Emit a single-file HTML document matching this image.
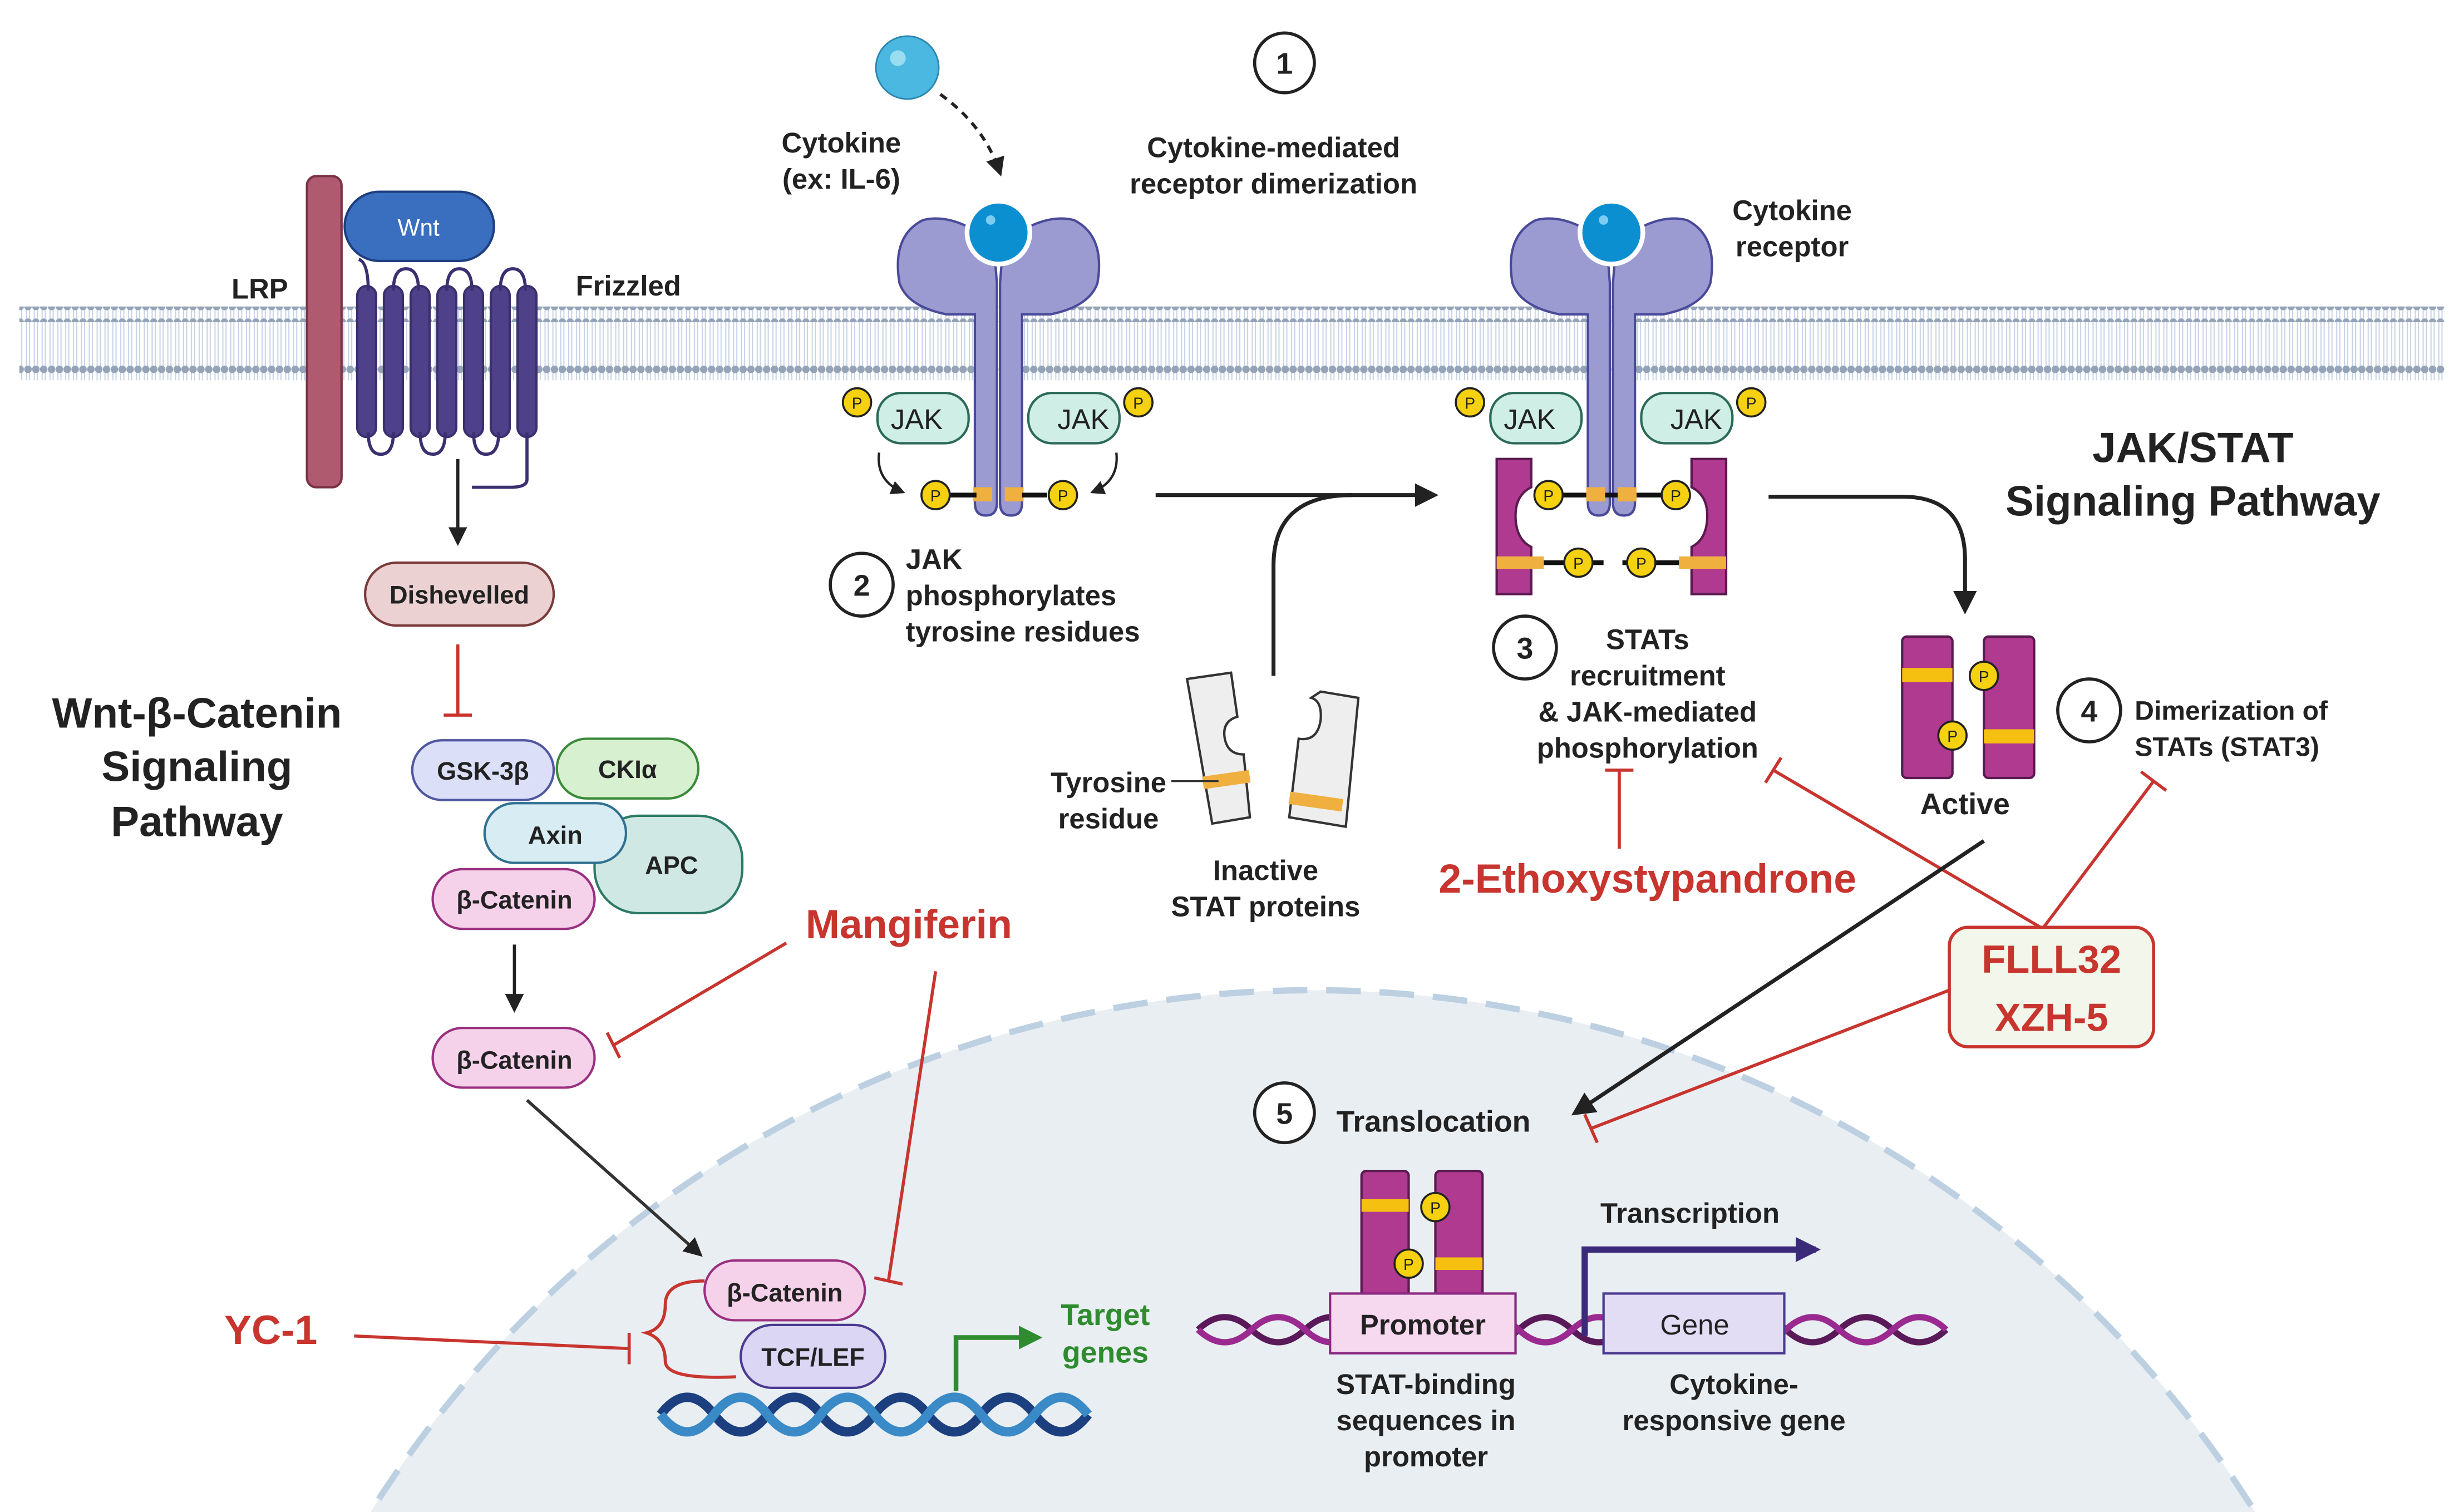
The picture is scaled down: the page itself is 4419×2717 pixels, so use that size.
<!DOCTYPE html>
<html><head><meta charset="utf-8"><style>
html,body{margin:0;padding:0;background:#fff;width:4419px;height:2717px;overflow:hidden}
svg{display:block}
text{font-family:"Liberation Sans",sans-serif;font-weight:bold;fill:#222}
</style></head><body>
<svg width="4419" height="2717" viewBox="0 0 1564 962" xmlns="http://www.w3.org/2000/svg">
<defs>
<marker id="ah" viewBox="0 0 10 10" refX="8" refY="5" markerWidth="6" markerHeight="6" orient="auto"><path d="M0,0 L10,5 L0,10 z" fill="#222"/></marker>
<marker id="ahg" viewBox="0 0 10 10" refX="8" refY="5" markerWidth="5" markerHeight="5" orient="auto"><path d="M0,0 L10,5 L0,10 z" fill="#2e8b2e"/></marker>
<marker id="ahp" viewBox="0 0 10 10" refX="8" refY="5" markerWidth="4" markerHeight="4" orient="auto"><path d="M0,0 L10,5 L0,10 z" fill="#3b2a7a"/></marker>
<pattern id="heads" width="5" height="10" patternUnits="userSpaceOnUse"><circle cx="2.5" cy="5" r="2.4" fill="#94a3b8"/></pattern>
<pattern id="tails" width="5" height="10" patternUnits="userSpaceOnUse"><path d="M1.5,0 L1.5,10 M3.5,0 L3.5,10" stroke="#c5d2e6" stroke-width="0.7"/></pattern>
<g id="P"><circle r="9" fill="#f5d10f" stroke="#222" stroke-width="1.3"/><text y="4" text-anchor="middle" font-size="10" style="font-weight:normal">P</text></g>
</defs>

<!-- nucleus -->
<ellipse cx="835" cy="1345" rx="710" ry="715" fill="#e9eef2" stroke="#bcd0e2" stroke-width="4" stroke-dasharray="22 12"/>

<!-- membrane -->
<rect x="12" y="196" width="1543" height="46" fill="url(#tails)"/>
<rect x="12" y="195" width="1543" height="10" fill="url(#heads)"/>
<rect x="12" y="230" width="1543" height="10" fill="url(#heads)"/>

<!-- Wnt pathway -->
<rect x="195" y="112" width="22" height="198" rx="6" fill="#b05a70" stroke="#7a3345" stroke-width="1.5"/>
<rect x="219" y="122" width="95" height="44" rx="22" fill="#3a6fc0" stroke="#1e3f80" stroke-width="1.5"/>
<text x="266" y="150" text-anchor="middle" font-size="15" style="fill:#fff;font-weight:normal">Wnt</text>
<g fill="#4f4189" stroke="#3b2f70" stroke-width="1.5">
<rect x="227" y="182" width="12" height="96" rx="6"/><rect x="244" y="182" width="12" height="96" rx="6"/>
<rect x="261" y="182" width="12" height="96" rx="6"/><rect x="278" y="182" width="12" height="96" rx="6"/>
<rect x="295" y="182" width="12" height="96" rx="6"/><rect x="312" y="182" width="12" height="96" rx="6"/>
<rect x="329" y="182" width="12" height="96" rx="6"/>
</g>
<path d="M234,185 Q234,167 228,165 M250,185 q0,-14 8,-14 q8,0 8,14 M284,185 q0,-14 8,-14 q8,0 8,14 M318,185 q0,-14 8,-14 q8,0 8,14 M234,275 q0,14 8,14 q8,0 8,-14 M267,275 q0,14 8,14 q8,0 8,-14 M301,275 q0,14 8,14 q8,0 8,-14 M335,275 L335,305 q0,5 -10,5 L300,310" fill="none" stroke="#3b2f70" stroke-width="2"/>
<text x="183" y="190" text-anchor="end" font-size="18">LRP</text>
<text x="366" y="188" font-size="18">Frizzled</text>
<line x1="291" y1="292" x2="291" y2="345" stroke="#222" stroke-width="2" marker-end="url(#ah)"/>
<rect x="232" y="358" width="120" height="40" rx="20" fill="#ecd1d3" stroke="#7a3a3a" stroke-width="1.5"/>
<text x="292" y="384" text-anchor="middle" font-size="16">Dishevelled</text>
<path d="M291,410 L291,455 M282,455 L300,455" stroke="#c8342e" stroke-width="2" fill="none"/>
<text x="125" y="463" text-anchor="middle" font-size="27">Wnt-β-Catenin</text>
<text x="125" y="497" text-anchor="middle" font-size="27">Signaling</text>
<text x="125" y="532" text-anchor="middle" font-size="27">Pathway</text>
<rect x="378" y="519" width="94" height="62" rx="28" fill="#cfe8e3" stroke="#2c7a66" stroke-width="1.5"/>
<text x="427" y="556" text-anchor="middle" font-size="16">APC</text>
<rect x="262" y="471" width="90" height="38" rx="19" fill="#dcdff8" stroke="#5058a0" stroke-width="1.5"/>
<text x="307" y="496" text-anchor="middle" font-size="16">GSK-3β</text>
<rect x="354" y="470" width="90" height="38" rx="19" fill="#d7f0cf" stroke="#3a8a3a" stroke-width="1.5"/>
<text x="399" y="495" text-anchor="middle" font-size="16">CKIα</text>
<rect x="308" y="511" width="90" height="38" rx="19" fill="#d8ecf3" stroke="#307090" stroke-width="1.5"/>
<text x="353" y="537" text-anchor="middle" font-size="16">Axin</text>
<rect x="275" y="553" width="103" height="38" rx="19" fill="#f5d1ea" stroke="#9a3080" stroke-width="1.5"/>
<text x="327" y="578" text-anchor="middle" font-size="16">β-Catenin</text>
<line x1="327" y1="601" x2="327" y2="642" stroke="#222" stroke-width="2" marker-end="url(#ah)"/>
<rect x="275" y="654" width="103" height="38" rx="19" fill="#f5d1ea" stroke="#9a3080" stroke-width="1.5"/>
<text x="327" y="680" text-anchor="middle" font-size="16">β-Catenin</text>
<line x1="335" y1="700" x2="445" y2="798" stroke="#333" stroke-width="2" marker-end="url(#ah)"/>
<text x="578" y="597" text-anchor="middle" font-size="26" style="fill:#c8342e">Mangiferin</text>
<path d="M500,600 L390,665 M386,657 L394,673" stroke="#c8342e" stroke-width="2" fill="none"/>
<path d="M595,618 L565,815 M556,813 L574,817" stroke="#c8342e" stroke-width="2" fill="none"/>
<text x="172" y="855" text-anchor="middle" font-size="26" style="fill:#c8342e">YC-1</text>
<path d="M225,850 L400,858 M400,848 L400,868" stroke="#c8342e" stroke-width="2" fill="none"/>
<path d="M448,815 q-25,0 -25,15 q0,15 -12,18 q12,4 12,18 q0,12 45,10" stroke="#c8342e" stroke-width="2" fill="none"/>
<!-- DNA left -->
<path d="M420,900 q17,-22 34,0 t34,0 t34,0 t34,0 t34,0 t34,0 t34,0 t34,0" stroke="#1c3f80" stroke-width="6" fill="none"/>
<path d="M420,900 q17,22 34,0 t34,0 t34,0 t34,0 t34,0 t34,0 t34,0 t34,0" stroke="#3a8ac8" stroke-width="6" fill="none"/>
<rect x="448" y="802" width="102" height="38" rx="19" fill="#f5d1ea" stroke="#9a3080" stroke-width="1.5"/>
<text x="499" y="828" text-anchor="middle" font-size="16">β-Catenin</text>
<rect x="471" y="843" width="92" height="40" rx="20" fill="#dcd6f5" stroke="#4a3a90" stroke-width="1.5"/>
<text x="517" y="869" text-anchor="middle" font-size="16">TCF/LEF</text>
<path d="M608,885 L608,851 L660,851" stroke="#2e8b2e" stroke-width="3" fill="none" marker-end="url(#ahg)"/>
<text x="703" y="843" text-anchor="middle" font-size="19" style="fill:#2e8b2e">Target</text>
<text x="703" y="867" text-anchor="middle" font-size="19" style="fill:#2e8b2e">genes</text>

<!-- JAK/STAT step 1 -->
<circle cx="577" cy="43" r="20" fill="#4ab8e0" stroke="#2a86b0" stroke-width="1"/>
<circle cx="571" cy="37" r="5" fill="#9adcf0"/>
<path d="M598,60 q28,20 38,50" stroke="#222" stroke-width="2" stroke-dasharray="5 4" fill="none" marker-end="url(#ah)"/>
<text x="535" y="97" text-anchor="middle" font-size="18">Cytokine</text>
<text x="535" y="120" text-anchor="middle" font-size="18">(ex: IL-6)</text>
<circle cx="817" cy="40" r="19" fill="#fff" stroke="#222" stroke-width="2"/><text x="817" y="47" text-anchor="middle" font-size="19">1</text>
<text x="810" y="100" text-anchor="middle" font-size="18">Cytokine-mediated</text>
<text x="810" y="123" text-anchor="middle" font-size="18">receptor dimerization</text>

<g id="rec">
<path d="M632,155 q-25,-20 -45,-15 q-20,10 -15,40 q5,15 30,20 L620,200 L620,320 q0,8 7,8 q7,0 7,-8 L634,180 z" fill="#9b9bd2" stroke="#4a4a9a" stroke-width="1.5"/>
<path d="M638,155 q25,-20 45,-15 q20,10 15,40 q-5,15 -30,20 L650,200 L650,320 q0,8 -7,8 q-7,0 -7,-8 L636,180 z" fill="#9b9bd2" stroke="#4a4a9a" stroke-width="1.5"/>
<circle cx="635" cy="148" r="20" fill="#0b8fd0" stroke="#fff" stroke-width="3"/>
<circle cx="630" cy="140" r="3" fill="#7ccdf0"/>
<rect x="558" y="250" width="58" height="32" rx="15" fill="#cfeee6" stroke="#2c6a58" stroke-width="1.5"/>
<text x="583" y="273" text-anchor="middle" font-size="18" style="font-weight:normal">JAK</text>
<rect x="654" y="250" width="58" height="32" rx="15" fill="#cfeee6" stroke="#2c6a58" stroke-width="1.5"/>
<text x="689" y="273" text-anchor="middle" font-size="18" style="font-weight:normal">JAK</text>
<use href="#P" x="545" y="256"/><use href="#P" x="724" y="256"/>
<rect x="619" y="310" width="12" height="9" fill="#f0b040"/><rect x="639" y="310" width="12" height="9" fill="#f0b040"/>
</g>
<line x1="604" y1="315" x2="621" y2="315" stroke="#111" stroke-width="3"/><line x1="650" y1="315" x2="666" y2="315" stroke="#111" stroke-width="3"/>
<use href="#P" x="595" y="315"/><use href="#P" x="676" y="315"/>
<path d="M559,288 q-2,18 15,25" stroke="#222" stroke-width="1.5" fill="none" marker-end="url(#ah)"/>
<path d="M710,288 q2,18 -15,25" stroke="#222" stroke-width="1.5" fill="none" marker-end="url(#ah)"/>
<circle cx="548" cy="372" r="20" fill="#fff" stroke="#222" stroke-width="2"/><text x="548" y="379" text-anchor="middle" font-size="19">2</text>
<text x="576" y="362" font-size="18">JAK</text>
<text x="576" y="385" font-size="18">phosphorylates</text>
<text x="576" y="408" font-size="18">tyrosine residues</text>
<line x1="735" y1="315" x2="912" y2="315" stroke="#222" stroke-width="2.5" marker-end="url(#ah)"/>
<path d="M810,430 L810,360 q0,-45 50,-45" stroke="#222" stroke-width="2.5" fill="none"/>
<!-- inactive STATs -->
<path d="M755,432 l28,-4 l4,28 q-10,3 -8,14 q2,10 12,10 l4,40 l-24,4 z" fill="#eee" stroke="#333" stroke-width="1.5"/>
<rect x="765" y="492" width="30" height="8" fill="#f0b040" transform="rotate(-8 780 496)"/>
<path d="M840,440 l24,4 l-8,82 l-36,-6 l6,-50 q12,2 14,-12 q1,-12 -6,-14 z" fill="#eee" stroke="#333" stroke-width="1.5"/>
<rect x="820" y="506" width="34" height="8" fill="#f0b040" transform="rotate(8 837 510)"/>
<text x="705" y="504" text-anchor="middle" font-size="18">Tyrosine</text>
<text x="705" y="527" text-anchor="middle" font-size="18">residue</text>
<line x1="745" y1="497" x2="775" y2="497" stroke="#333" stroke-width="1.2"/>
<text x="805" y="560" text-anchor="middle" font-size="18">Inactive</text>
<text x="805" y="583" text-anchor="middle" font-size="18">STAT proteins</text>

<!-- step 3 -->
<g transform="translate(390,0)"><use href="#rec"/></g>
<text x="1140" y="140" text-anchor="middle" font-size="18">Cytokine</text>
<text x="1140" y="163" text-anchor="middle" font-size="18">receptor</text>
<path d="M952,292 h22 v18 q-10,5 -10,18 q0,15 10,20 v30 h-22 z" fill="#b03a90" stroke="#5a1a50" stroke-width="1.5"/>
<path d="M1098,292 h-22 v18 q10,5 10,18 q0,15 -10,20 v30 h22 z" fill="#b03a90" stroke="#5a1a50" stroke-width="1.5"/>
<rect x="952" y="354" width="30" height="8" fill="#f0b040"/><rect x="1068" y="354" width="30" height="8" fill="#f0b040"/>
<line x1="990" y1="315" x2="1058" y2="315" stroke="#111" stroke-width="3"/>
<rect x="1009" y="310" width="12" height="9" fill="#f0b040"/><rect x="1029" y="310" width="12" height="9" fill="#f0b040"/>
<use href="#P" x="985" y="315"/><use href="#P" x="1066" y="315"/>
<line x1="982" y1="358" x2="1068" y2="358" stroke="#111" stroke-width="3"/>
<rect x="1020" y="340" width="12" height="30" fill="#fff"/>
<use href="#P" x="1004" y="358"/><use href="#P" x="1044" y="358"/>
<circle cx="970" cy="412" r="20" fill="#fff" stroke="#222" stroke-width="2"/><text x="970" y="419" text-anchor="middle" font-size="19">3</text>
<text x="1048" y="413" text-anchor="middle" font-size="18">STATs</text>
<text x="1048" y="436" text-anchor="middle" font-size="18">recruitment</text>
<text x="1048" y="459" text-anchor="middle" font-size="18">&amp; JAK-mediated</text>
<text x="1048" y="482" text-anchor="middle" font-size="18">phosphorylation</text>
<path d="M1125,316 H1210 q40,0 40,40 V388" stroke="#222" stroke-width="2.5" fill="none" marker-end="url(#ah)"/>
<text x="1395" y="294" text-anchor="middle" font-size="27">JAK/STAT</text>
<text x="1395" y="328" text-anchor="middle" font-size="27">Signaling Pathway</text>
<!-- active dimer -->
<rect x="1210" y="405" width="32" height="90" rx="3" fill="#b03a90" stroke="#5a1a50" stroke-width="1.5"/>
<rect x="1262" y="405" width="32" height="90" rx="3" fill="#b03a90" stroke="#5a1a50" stroke-width="1.5"/>
<rect x="1210" y="425" width="32" height="9" fill="#f5c010"/><rect x="1262" y="464" width="32" height="9" fill="#f5c010"/>
<use href="#P" x="1262" y="430"/><use href="#P" x="1242" y="468"/>
<text x="1250" y="518" text-anchor="middle" font-size="19">Active</text>
<circle cx="1329" cy="452" r="20" fill="#fff" stroke="#222" stroke-width="2"/><text x="1329" y="459" text-anchor="middle" font-size="19">4</text>
<text x="1358" y="458" font-size="17">Dimerization of</text>
<text x="1358" y="481" font-size="17">STATs (STAT3)</text>
<path d="M1030,490 V540 M1021,490 H1039" stroke="#c8342e" stroke-width="2" fill="none"/>
<text x="1048" y="568" text-anchor="middle" font-size="26" style="fill:#c8342e">2-Ethoxystypandrone</text>
<path d="M1298,590 L1128,490 M1123,498 L1133,482 M1300,590 L1370,497 M1362,491 L1378,503" stroke="#c8342e" stroke-width="2" fill="none"/>
<line x1="1262" y1="535" x2="1002" y2="708" stroke="#222" stroke-width="2.5" marker-end="url(#ah)"/>
<rect x="1240" y="590" width="130" height="76" rx="12" fill="#f3f6ea" stroke="#c8342e" stroke-width="2"/>
<text x="1305" y="619" text-anchor="middle" font-size="25" style="fill:#c8342e">FLLL32</text>
<text x="1305" y="656" text-anchor="middle" font-size="25" style="fill:#c8342e">XZH-5</text>
<path d="M1240,630 L1012,718 M1008,709 L1016,727" stroke="#c8342e" stroke-width="2" fill="none"/>
<circle cx="817" cy="708" r="19" fill="#fff" stroke="#222" stroke-width="2"/><text x="817" y="715" text-anchor="middle" font-size="19">5</text>
<text x="850" y="720" font-size="19">Translocation</text>

<!-- DNA right -->
<path d="M762,846 q17,-16 34,0 t34,0 t34,0 t34,0 t34,0 t34,0 t34,0 t34,0 t34,0 t34,0 t34,0 t34,0 t34,0 t34,0" stroke="#5a1a5a" stroke-width="4" fill="none"/>
<path d="M762,846 q17,16 34,0 t34,0 t34,0 t34,0 t34,0 t34,0 t34,0 t34,0 t34,0 t34,0 t34,0 t34,0 t34,0 t34,0" stroke="#9a2a90" stroke-width="4" fill="none"/>
<rect x="866" y="745" width="30" height="82" rx="3" fill="#b03a90" stroke="#5a1a50" stroke-width="1.5"/>
<rect x="913" y="745" width="30" height="82" rx="3" fill="#b03a90" stroke="#5a1a50" stroke-width="1.5"/>
<rect x="866" y="763" width="30" height="8" fill="#f5c010"/><rect x="913" y="800" width="30" height="8" fill="#f5c010"/>
<use href="#P" x="913" y="768"/><use href="#P" x="896" y="804"/>
<rect x="846" y="823" width="118" height="38" fill="#f6d8ef" stroke="#8a2a80" stroke-width="1.5"/>
<text x="905" y="849" text-anchor="middle" font-size="18">Promoter</text>
<rect x="1020" y="823" width="115" height="38" fill="#e2dcf5" stroke="#4a3a90" stroke-width="1.5"/>
<text x="1078" y="849" text-anchor="middle" font-size="18" style="font-weight:normal">Gene</text>
<path d="M1008,850 V795 H1155" stroke="#3b2a7a" stroke-width="4" fill="none" marker-end="url(#ahp)"/>
<text x="1075" y="778" text-anchor="middle" font-size="18">Transcription</text>
<text x="907" y="887" text-anchor="middle" font-size="18">STAT-binding</text>
<text x="907" y="910" text-anchor="middle" font-size="18">sequences in</text>
<text x="907" y="933" text-anchor="middle" font-size="18">promoter</text>
<text x="1103" y="887" text-anchor="middle" font-size="18">Cytokine-</text>
<text x="1103" y="910" text-anchor="middle" font-size="18">responsive gene</text>
</svg>
</body></html>
